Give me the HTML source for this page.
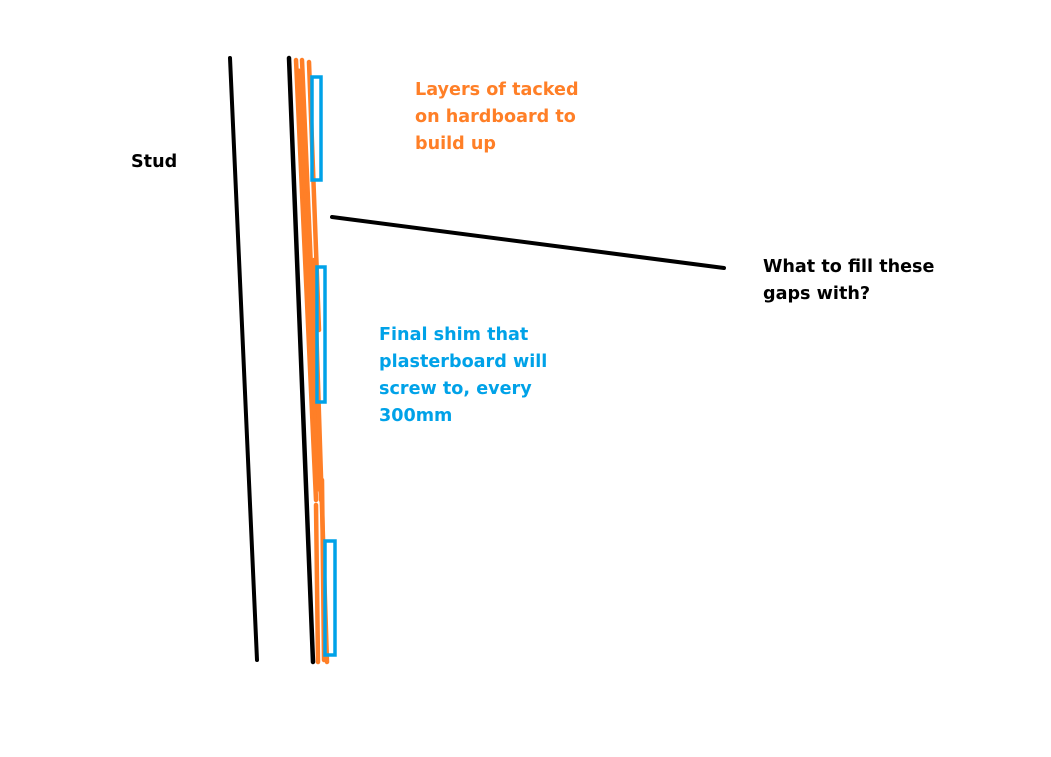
<!DOCTYPE html>
<html><head><style>
html,body{margin:0;padding:0;background:#fff;}
svg{display:block;}
text{font-family:"DejaVu Sans","Liberation Sans",sans-serif;font-weight:bold;font-size:17.6px;}
</style></head><body>
<svg width="1051" height="757" viewBox="0 0 1051 757" xmlns="http://www.w3.org/2000/svg">
<rect width="1051" height="757" fill="#fff"/>
<g stroke-linecap="round" fill="none">
<line x1="230" y1="58" x2="257" y2="660" stroke="#000" stroke-width="4"/>
<line x1="289" y1="58" x2="313" y2="662" stroke="#000" stroke-width="4.5"/>
<line x1="296" y1="60" x2="316" y2="500" stroke="#ff7f27" stroke-width="4.5"/>
<line x1="302" y1="60" x2="321" y2="500" stroke="#ff7f27" stroke-width="4.5"/>
<line x1="309" y1="62" x2="319" y2="330" stroke="#ff7f27" stroke-width="4.5"/>
<line x1="299" y1="70" x2="318" y2="490" stroke="#ff7f27" stroke-width="3"/>
<line x1="314" y1="260" x2="327" y2="662" stroke="#ff7f27" stroke-width="4.5"/>
<line x1="316" y1="505" x2="318" y2="662" stroke="#ff7f27" stroke-width="4.5"/>
<line x1="322" y1="480" x2="324" y2="660" stroke="#ff7f27" stroke-width="4.5"/>
<rect x="312" y="77" width="9" height="103" stroke="#00a2e8" stroke-width="3.5"/>
<rect x="317" y="267" width="8" height="135" stroke="#00a2e8" stroke-width="3.5"/>
<rect x="325" y="541" width="10" height="114" stroke="#00a2e8" stroke-width="3.5"/>
<line x1="332" y1="217" x2="724" y2="268" stroke="#000" stroke-width="4"/>
</g>
<text x="131" y="167" fill="#000">Stud</text>
<text fill="#ff7f27"><tspan x="415" y="95">Layers of tacked</tspan><tspan x="415" y="122">on hardboard to</tspan><tspan x="415" y="149">build up</tspan></text>
<text fill="#000"><tspan x="763" y="272">What to fill these</tspan><tspan x="763" y="299">gaps with?</tspan></text>
<text fill="#00a2e8"><tspan x="379" y="340">Final shim that</tspan><tspan x="379" y="367">plasterboard will</tspan><tspan x="379" y="394">screw to, every</tspan><tspan x="379" y="421">300mm</tspan></text>
</svg>
</body></html>
